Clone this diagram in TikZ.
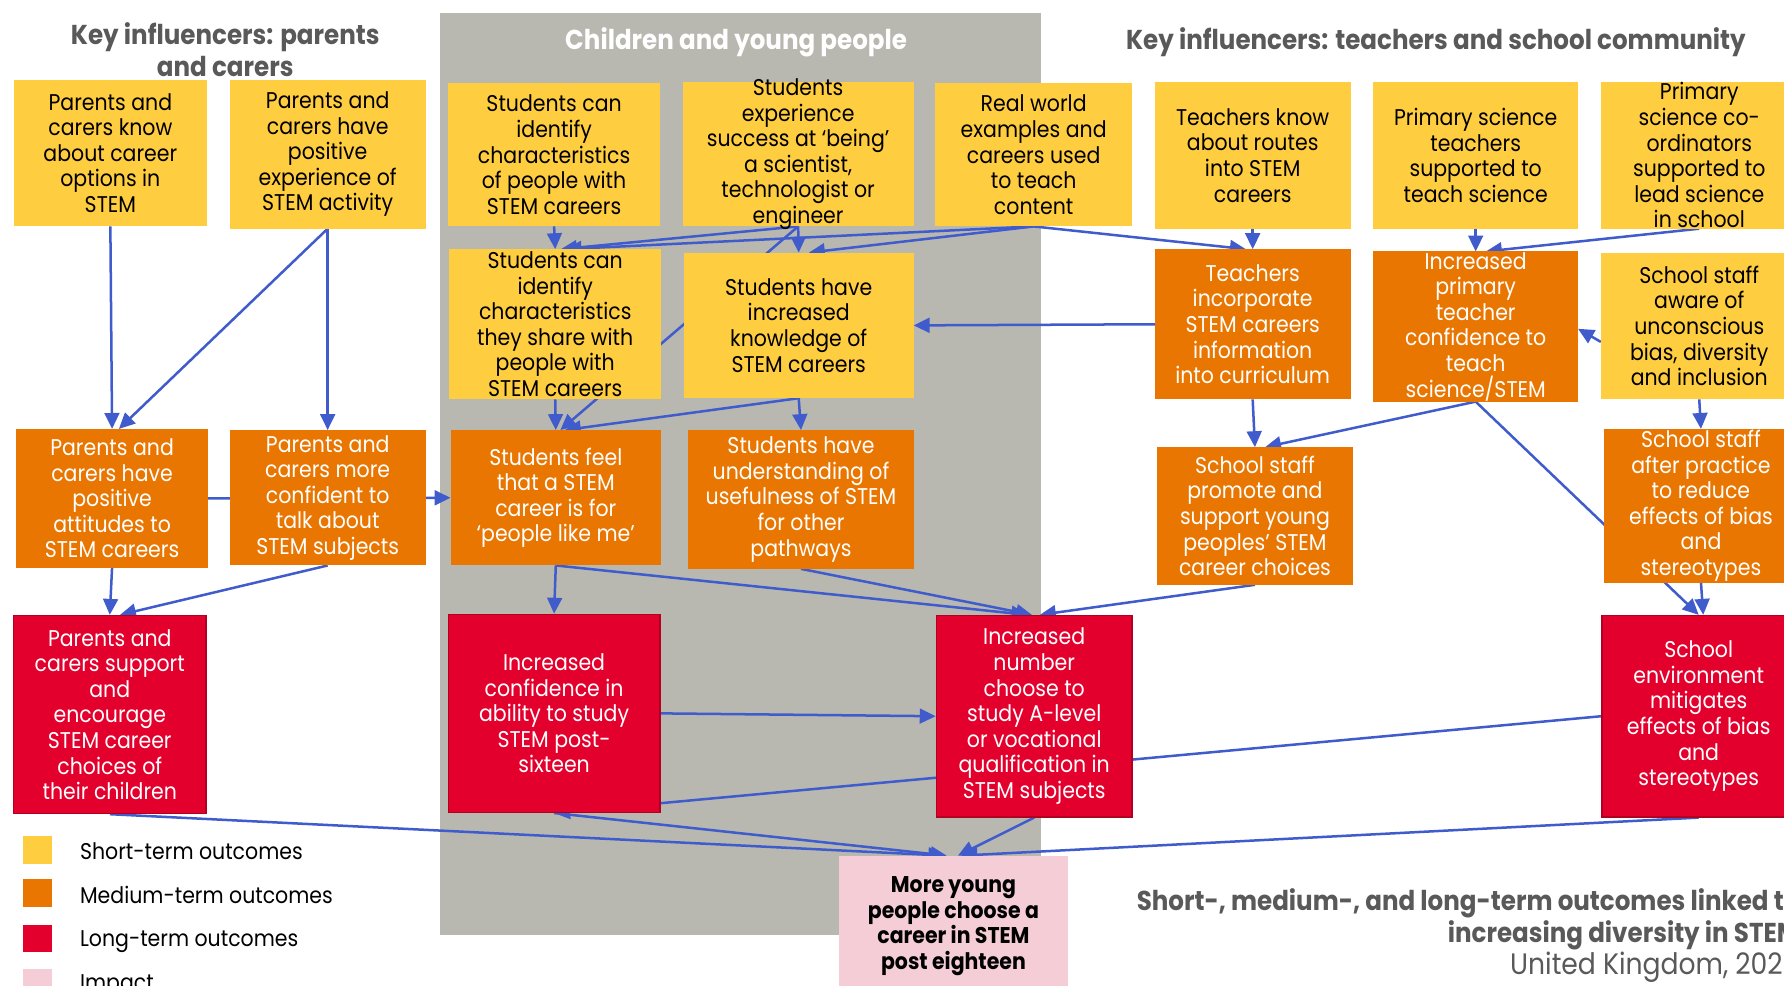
\documentclass[tikz,border=0pt]{standalone}
\usepackage{fontspec}
\setmainfont{Poppins}[FakeStretch=0.9]
\usetikzlibrary{arrows.meta,fit,calc}
\definecolor{cyel}{RGB}{255,205,64}
\definecolor{corg}{RGB}{233,118,0}
\definecolor{cred}{RGB}{228,0,45}
\definecolor{credb}{RGB}{178,0,32}
\definecolor{cpink}{RGB}{245,205,215}
\definecolor{cgrey}{RGB}{184,184,176}
\definecolor{cblue}{RGB}{64,92,204}
\definecolor{ctitle}{RGB}{89,89,89}
\pgfdeclarelayer{panel}
\pgfdeclarelayer{bg}
\pgfsetlayers{panel,bg,main}
\newcommand\obox[7]{\node[#2, fit={(#3,#4)(#5,#6)}] (#1) {};\node[#2text] (#1-t) at (#1.center) {#7};}
\begin{document}
\begin{tikzpicture}[x=0.5pt,y=-0.5pt,
  box/.style={inner sep=0pt, outer sep=0pt, draw=none},
  yb/.style={box, fill=cyel},
  ob/.style={box, fill=corg},
  rb/.style={box, fill=cred, draw=credb, line width=0.6pt, outer sep=0.3pt},
  pb/.style={box, fill=cpink},
  txt/.style={align=center, font=\fontsize{10}{11.25}\selectfont, inner sep=0pt},
  ybtext/.style={txt, text=black},
  obtext/.style={txt, text=white},
  rbtext/.style={txt, text=white},
  pbtext/.style={txt, text=black, font=\fontsize{10}{11.3}\selectfont\bfseries},
  ttl/.style={align=center, text=ctitle, font=\fontsize{12}{14}\selectfont\bfseries, inner sep=0pt},
  leg/.style={anchor=west, font=\fontsize{10}{12}\selectfont, inner sep=0pt},
  arr/.style={draw=cblue, line width=1.1pt, -{Triangle[length=7pt,width=6.5pt]}}]
\useasboundingbox (0,0) rectangle (1568,866);
\clip (0,0) rectangle (1568,866);
\begin{pgfonlayer}{panel}
\fill[white] (0,0) rectangle (1568,866);
\fill[cgrey] (387,11) rectangle (915,822);
\end{pgfonlayer}
\node[ttl] (tp) at (198,44) {Key influencers: parents\\and carers};
\node[ttl, text=white] (tc) at (647,37) {Children and young people};
\node[ttl] (tt) at (1262,37) {Key influencers: teachers and school community};
% row 1
\obox{A1}{yb}{12}{70}{182}{199}{Parents and\\carers know\\about career\\options in\\STEM}
\obox{A2}{yb}{202}{70}{374}{201}{Parents and\\carers have\\positive\\experience of\\STEM activity}
\obox{C1}{yb}{394}{73}{580}{199}{Students can\\identify\\characteristics\\of people with\\STEM careers}
\obox{C2}{yb}{600}{72}{803}{199}{Students\\experience\\success at ‘being’\\a scientist,\\technologist or\\engineer}
\obox{C3}{yb}{822}{73}{995}{199}{Real world\\examples and\\careers used\\to teach\\content}
\obox{T1}{yb}{1015}{72}{1187}{201}{Teachers know\\about routes\\into STEM\\careers}
\obox{T2}{yb}{1207}{72}{1387}{201}{Primary science\\teachers\\supported to\\teach science}
\obox{T3}{yb}{1407}{72}{1580}{201}{Primary\\science co-\\ordinators\\supported to\\lead science\\in school}
% row 2
\obox{C4}{yb}{395}{219}{581}{351}{Students can\\identify\\characteristics\\they share with\\people with\\STEM careers}
\obox{C5}{yb}{601}{222}{803}{350}{Students have\\increased\\knowledge of\\STEM careers}
\obox{T4}{ob}{1015}{219}{1187}{351}{Teachers\\incorporate\\STEM careers\\information\\into curriculum}
\obox{T5}{ob}{1207}{221}{1387}{353}{Increased\\primary\\teacher\\confidence to\\teach\\science/STEM}
\obox{T6}{yb}{1407}{222}{1580}{351}{School staff\\aware of\\unconscious\\bias, diversity\\and inclusion}
% row 3
\obox{P3}{ob}{14}{377}{183}{499}{Parents and\\carers have\\positive\\attitudes to\\STEM careers}
\obox{P4}{ob}{202}{378}{374}{497}{Parents and\\carers more\\confident to\\talk about\\STEM subjects}
\obox{C6}{ob}{396}{378}{581}{497}{Students feel\\that a STEM\\career is for\\‘people like me’}
\obox{C7}{ob}{605}{378}{803}{500}{Students have\\understanding of\\usefulness of STEM\\for other\\pathways}
\obox{T7}{ob}{1017}{393}{1189}{514}{School staff\\promote and\\support young\\peoples’ STEM\\career choices}
\obox{T8}{ob}{1410}{377}{1580}{512}{School staff\\after practice\\to reduce\\effects of bias\\and\\stereotypes}
% row 4
\obox{P5}{rb}{12}{541}{181}{715}{Parents and\\carers support\\and\\encourage\\STEM career\\choices of\\their children}
\obox{C8}{rb}{394}{540}{580}{714}{Increased\\confidence in\\ability to study\\STEM post-\\sixteen}
\obox{C9}{rb}{823}{541}{995}{718}{Increased\\number\\choose to\\study A-level\\or vocational\\qualification in\\STEM subjects}
\obox{T9}{rb}{1408}{541}{1578}{718}{School\\environment\\mitigates\\effects of bias\\and\\stereotypes}
% impact
\node[pb, fit={(737,752)(939,900)}] (IM) {};
\node[pbtext] (IM-t) at (838,814) {More young\\people choose a\\career in STEM\\post eighteen};
% legend
\node[box, fill=cyel, fit={(20,735)(46,759)}] (L1) {};
\node[box, fill=corg, fit={(20,773)(46,797)}] (L2) {};
\node[box, fill=cred, fit={(20,813)(46,837)}] (L3) {};
\node[box, fill=cpink, fit={(20,852)(46,876)}] (L4) {};
\node[leg] (L1-t) at (70,748) {Short-term outcomes};
\node[leg] (L2-t) at (70,787) {Medium-term outcomes};
\node[leg] (L3-t) at (70,828) {Long-term outcomes};
\node[leg] (L4-t) at (70,866) {Impact};
% caption
\node[ttl, align=right, anchor=north east] (cap) at (1582,781) {Short-, medium-, and long-term outcomes linked to\\increasing diversity in STEM\\\mdseries\fontsize{13}{14}\selectfont United Kingdom, 2020};
% arrows
\begin{pgfonlayer}{bg}
\draw[arr] (A1.south) -- (P3.north);
\draw[arr] (A2.south) -- ($(P3.north)+(6,0)$);
\draw[arr] (A2.south) -- (P4.north);
\draw[arr] (P3.east) -- (C6.west);
\draw[arr] (C1.south) -- (C4.north);
\draw[arr] (C2.south) -- ($(C4.north)+(5,0)$);
\draw[arr] (C3.south) -- ($(C4.north)+(9,0)$);
\draw[arr] (C2.south) -- (C5.north);
\draw[arr] (C3.south) -- ($(C5.north)+(9,0)$);
\draw[arr] (C2.south) -- ($(C6.north)+(4,0)$);
\draw[arr] (C3.south) -- ($(T4.north)+(-6,0)$);
\draw[arr] (T1.south) -- (T4.north);
\draw[arr] (C4.south) -- (C6.north);
\draw[arr] (C5.south) -- ($(C6.north)+(8,0)$);
\draw[arr] (C5.south) -- (C7.north);
\draw[arr] (T4.west) -- (C5.east);
\draw[arr] (T2.south) -- (T5.north);
\draw[arr] (T3.south) -- ($(T5.north)+(9,0)$);
\draw[arr] ($(T6.west)+(0,14)$) -- ($(T5.east)+(0,2)$);
\draw[arr] (T6.south) -- (T8.north);
\draw[arr] (T4.south) -- (T7.north);
\draw[arr] (T5.south) -- ($(T7.north)+(9,0)$);
\draw[arr] (T5.south) -- (T9.north);
\draw[arr] (T8.south) -- ($(T9.north)+(4,0)$);
\draw[arr] (P3.south) -- (P5.north);
\draw[arr] (P4.south) -- ($(P5.north)+(9,0)$);
\draw[arr] (C6.south) -- (C8.north);
\draw[arr] (C6.south) -- ($(C9.north)+(-6,0)$);
\draw[arr] (C7.south) -- ($(C9.north)+(-2,0)$);
\draw[arr] (T7.south) -- ($(C9.north)+(5,0)$);
\draw[arr] (C8.east) -- (C9.west);
\draw[arr] (T9.west) -- (C8.south);
\draw[arr] (P5.south) -- ($(IM.north)+(-8,0)$);
\draw[arr] (C8.south) -- ($(IM.north)+(-6,0)$);
\draw[arr] (C9.south) -- ($(IM.north)+(4,0)$);
\draw[arr] (T9.south) -- ($(IM.north)+(7,0)$);
\end{pgfonlayer}
\end{tikzpicture}
\end{document}
